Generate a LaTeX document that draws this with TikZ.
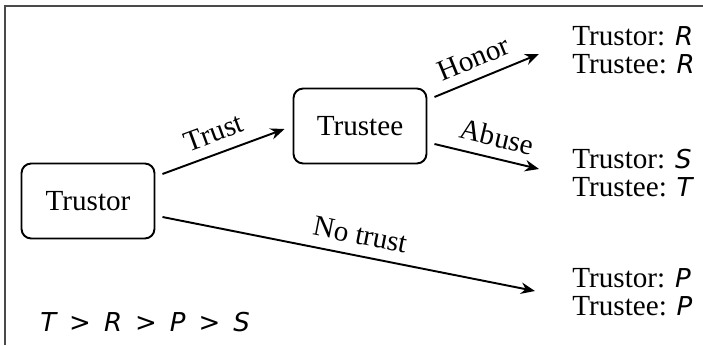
\documentclass[tikz,border=0pt]{standalone}
\usepackage{fontspec}
\setmainfont{Liberation Serif}
\newfontfamily\payfont{DejaVu Sans}
\usetikzlibrary{arrows.meta}

\definecolor{framegray}{HTML}{4A4A4A}
\newcommand{\pay}[1]{{\payfont\itshape\fontsize{14.8}{16.2}\selectfont #1}}
\newcommand{\gap}{\hspace{0.5em}}

\tikzset{
  player/.style={draw, rounded corners=5.5pt, line width=1.1pt,
    minimum width=2.66cm, minimum height=1.5cm, inner sep=0pt},
  move/.style={->, line width=1.1pt},
  movelabel/.style={above=2.5pt, sloped, inner sep=3.33pt},
  payoff/.style={anchor=west, align=left, inner sep=0pt},
}

\begin{document}
\begin{tikzpicture}[x=0.02cm, y=-0.02cm, >={Stealth[length=8pt,width=6.5pt]},
  font=\fontsize{16.6}{16.2}\selectfont]
\useasboundingbox (0,0) rectangle (703,345);

% Frame (top and left sides only)
\draw[framegray, line width=1.2pt] (5,345) -- (5,6) -- (703,6);

% Players
\node[player] (Trustor) at (88,201) {Trustor};
\node[player] (Trustee) at (360,126) {Trustee};

% Payoffs
\node[payoff] (honorpay) at (572,50) {Trustor: \pay{R}\\Trustee: \pay{R}};
\node[payoff] (abusepay) at (572,173) {Trustor: \pay{S}\\Trustee: \pay{T}};
\node[payoff] (notrustpay) at (572,292) {Trustor: \pay{P}\\Trustee: \pay{P}};

% Arrow ends
\coordinate (honorend) at (539,54);
\coordinate (abuseend) at (539,169);
\coordinate (notrustend) at (535,291);

% Moves
\draw[move] ([shift={(7,-27)}]Trustor.east) -- node[movelabel, pos=0.48] {Trust} ([shift={(-8,3)}]Trustee.west);
\draw[move] ([shift={(7,-29)}]Trustee.east) -- node[movelabel, pos=0.45] {Honor} (honorend);
\draw[move] ([shift={(7,18)}]Trustee.east) -- node[movelabel, pos=0.55] {Abuse} (abuseend);
\draw[move] ([shift={(7,16)}]Trustor.east) -- node[movelabel, pos=0.52] {No trust} (notrustend);

% Payoff order
\node[anchor=west, inner sep=0pt] (order) at (40,322) {\pay{T\gap>\gap R\gap>\gap P\gap>\gap S}};

\end{tikzpicture}
\end{document}
